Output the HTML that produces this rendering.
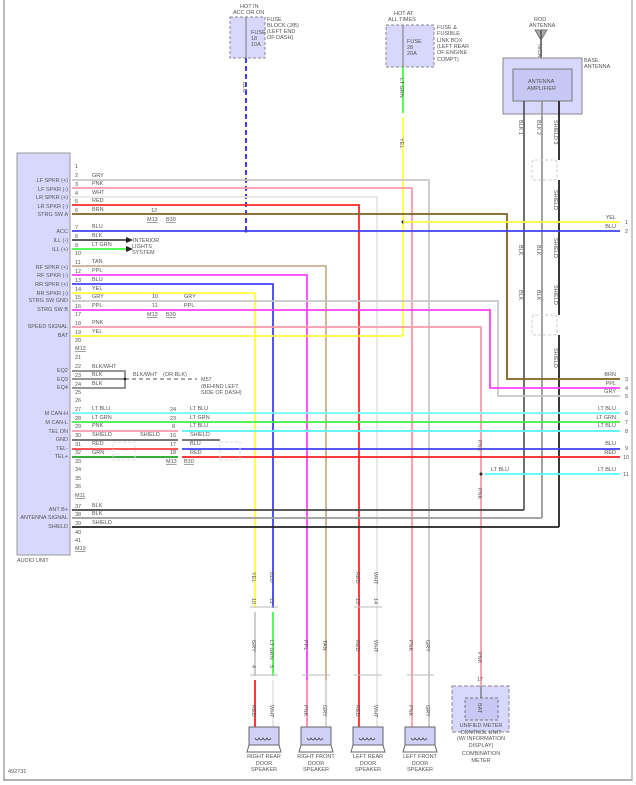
<!DOCTYPE html>
<html><head><meta charset="utf-8">
<style>
html,body{margin:0;padding:0;background:#fff;}
svg{display:block;font-family:"Liberation Sans",sans-serif;}
text{font-size:5.5px;fill:#555;}
.w{fill:none;stroke-width:1.8;}
</style></head>
<body>
<svg width="636" height="785" viewBox="0 0 636 785" xmlns="http://www.w3.org/2000/svg">
<!-- borders -->
<line x1="4" y1="0" x2="4" y2="781" stroke="#bbb" stroke-width="2"/>
<line x1="4" y1="780" x2="632" y2="780" stroke="#999" stroke-width="1.5"/>
<line x1="632" y1="0" x2="632" y2="781" stroke="#bbb" stroke-width="1.5"/>

<!-- Audio unit -->
<rect x="17" y="153" width="53" height="402" fill="#d8d8fc" stroke="#999" stroke-width="1"/>
<text x="17" y="562">AUDIO UNIT</text>
<g text-anchor="end">
<text x="68" y="182">LF SPKR (+)</text><text x="68" y="191">LF SPKR (-)</text>
<text x="68" y="199">LR SPKR (+)</text><text x="68" y="208">LR SPKR (-)</text>
<text x="68" y="216">STRG SW A</text><text x="68" y="233">ACC</text>
<text x="68" y="242">ILL (-)</text><text x="68" y="251">ILL (+)</text>
<text x="68" y="269">RF SPKR (+)</text><text x="68" y="277">RF SPKR (-)</text>
<text x="68" y="286">RR SPKR (+)</text><text x="68" y="295">RR SPKR (-)</text>
<text x="68" y="302">STRG SW GND</text><text x="68" y="311">STRG SW B</text>
<text x="68" y="328">SPEED SIGNAL</text><text x="68" y="337">BAT</text>
<text x="68" y="372">EQ2</text><text x="68" y="381">EQ3</text><text x="68" y="389">EQ4</text>
<text x="68" y="415">M CAN-H</text><text x="68" y="424">M CAN-L</text>
<text x="68" y="433">TEL ON</text><text x="68" y="441">GND</text>
<text x="68" y="450">TEL-</text><text x="68" y="458">TEL+</text>
<text x="68" y="511">ANT B+</text><text x="68" y="519">ANTENNA SIGNAL</text><text x="68" y="528">SHIELD</text>
</g>
<!-- pin numbers -->
<g>
<text x="75" y="168">1</text><text x="75" y="177">2</text><text x="75" y="186">3</text><text x="75" y="195">4</text><text x="75" y="203">5</text><text x="75" y="212">6</text>
<text x="75" y="229">7</text><text x="75" y="238">8</text><text x="75" y="247">9</text><text x="75" y="255">10</text>
<text x="75" y="264">11</text><text x="75" y="273">12</text><text x="75" y="282">13</text><text x="75" y="291">14</text><text x="75" y="299">15</text><text x="75" y="308">16</text><text x="75" y="316">17</text>
<text x="75" y="325">18</text><text x="75" y="334">19</text><text x="75" y="342">20</text><text x="75" y="350" text-decoration="underline">M13</text>
<text x="75" y="359">21</text><text x="75" y="368">22</text><text x="75" y="377">23</text><text x="75" y="386">24</text><text x="75" y="394">25</text><text x="75" y="402">26</text>
<text x="75" y="411">27</text><text x="75" y="420">28</text><text x="75" y="428">29</text><text x="75" y="437">30</text><text x="75" y="446">31</text><text x="75" y="454">32</text><text x="75" y="463">33</text>
<text x="75" y="471">34</text><text x="75" y="480">35</text><text x="75" y="488">36</text><text x="75" y="497" text-decoration="underline">M11</text>
<text x="75" y="508">37</text><text x="75" y="516">38</text><text x="75" y="525">39</text><text x="75" y="534">40</text><text x="75" y="542">41</text><text x="75" y="550" text-decoration="underline">M19</text>
</g>
<!-- wire color labels near unit -->
<g>
<text x="92" y="177">GRY</text><text x="92" y="185">PNK</text><text x="92" y="194">WHT</text><text x="92" y="202">RED</text><text x="92" y="211">BRN</text>
<text x="92" y="228">BLU</text><text x="92" y="237">BLK</text><text x="92" y="246">LT GRN</text>
<text x="92" y="263">TAN</text><text x="92" y="272">PPL</text><text x="92" y="281">BLU</text><text x="92" y="290">YEL</text><text x="92" y="298">GRY</text><text x="92" y="307">PPL</text>
<text x="92" y="324">PNK</text><text x="92" y="333">YEL</text>
<text x="92" y="368">BLK/WHT</text><text x="92" y="376">BLK</text><text x="92" y="385">BLK</text>
<text x="92" y="410">LT BLU</text><text x="92" y="419">LT GRN</text><text x="92" y="427">PNK</text><text x="92" y="436">SHIELD</text><text x="92" y="445">RED</text><text x="92" y="454">GRN</text>
<text x="92" y="507">BLK</text><text x="92" y="515">BLK</text><text x="92" y="524">SHIELD</text>
</g>

<!-- Top fuse 1 -->
<text x="240" y="8">HOT IN</text><text x="233" y="14">ACC OR ON</text>
<rect x="230" y="17" width="35" height="41" fill="#d8d8fc" stroke="#888" stroke-dasharray="3,2"/>
<line x1="246" y1="17" x2="246" y2="58" stroke="#777"/>
<text x="251" y="34">FUSE</text><text x="251" y="40">18</text><text x="251" y="46">10A</text>
<text x="267" y="21">FUSE</text><text x="267" y="27">BLOCK (J/B)</text><text x="267" y="33">(LEFT END</text><text x="267" y="39">OF DASH)</text>
<line x1="246" y1="58" x2="246" y2="231" stroke="#4040ff" stroke-width="2" stroke-dasharray="5,3"/>
<circle cx="246" cy="231" r="1.5" fill="#222"/>
<text transform="translate(243,82) rotate(90)">BLU</text>

<!-- fuse 2 -->
<text x="394" y="15">HOT AT</text><text x="388" y="21">ALL TIMES</text>
<rect x="386" y="25" width="48" height="42" fill="#d8d8fc" stroke="#888" stroke-dasharray="3,2"/>
<line x1="403" y1="25" x2="403" y2="67" stroke="#777"/>
<text x="407" y="43">FUSE</text><text x="407" y="49">28</text><text x="407" y="55">20A</text>
<text x="437" y="29">FUSE &amp;</text><text x="437" y="35">FUSIBLE</text><text x="437" y="42">LINK BOX</text><text x="437" y="48">(LEFT REAR</text><text x="437" y="54">OF ENGINE</text><text x="437" y="61">COMPT)</text>
<line x1="403" y1="67" x2="403" y2="113" stroke="#40ff40" stroke-width="1.8"/>
<line x1="403" y1="117" x2="403" y2="336" stroke="#ffff40" stroke-width="1.8"/>
<text transform="translate(400,78) rotate(90)">LT GRN</text>
<text transform="translate(400,138) rotate(90)">YEL</text>
<circle cx="403" cy="222" r="1.5" fill="#222"/>

<!-- antenna -->
<text x="534" y="21">ROD</text><text x="529" y="27">ANTENNA</text>
<polygon points="535,30 547,30 541,40" fill="#aaa" stroke="#777"/>
<line x1="541" y1="30" x2="541" y2="58" stroke="#555" stroke-width="1.5"/>
<text transform="translate(538,44) rotate(90)">N/CA</text>
<rect x="503" y="58" width="79" height="56" fill="#d8d8fc" stroke="#888"/>
<rect x="513" y="69" width="59" height="32" fill="#c8c8f4" stroke="#777"/>
<text x="528" y="83">ANTENNA</text><text x="527" y="90">AMPLIFIER</text>
<text x="584" y="62">BASE</text><text x="584" y="68">ANTENNA</text>
<line x1="524" y1="101" x2="524" y2="510" stroke="#444" stroke-width="1.5"/>
<line x1="542" y1="101" x2="542" y2="518" stroke="#999" stroke-width="1.8"/>
<line x1="559" y1="101" x2="559" y2="160" stroke="#222" stroke-width="1.8"/>
<line x1="559" y1="180" x2="559" y2="315" stroke="#222" stroke-width="1.8"/>
<line x1="559" y1="335" x2="559" y2="527" stroke="#222" stroke-width="1.8"/>
<rect x="532" y="160" width="25" height="20" rx="3" fill="none" stroke="#ccc" stroke-dasharray="3,2"/>
<rect x="532" y="315" width="25" height="20" rx="3" fill="none" stroke="#ccc" stroke-dasharray="3,2"/>
<text transform="translate(519,120) rotate(90)">BLK  1</text>
<text transform="translate(537,120) rotate(90)">BLK  2</text>
<text transform="translate(554,120) rotate(90)">SHIELD  3</text>
<text transform="translate(554,190) rotate(90)">SHIELD</text>
<text transform="translate(519,245) rotate(90)">BLK</text>
<text transform="translate(537,245) rotate(90)">BLK</text>
<text transform="translate(554,238) rotate(90)">SHIELD</text>
<text transform="translate(519,290) rotate(90)">BLK</text>
<text transform="translate(537,290) rotate(90)">BLK</text>
<text transform="translate(554,285) rotate(90)">SHIELD</text>
<text transform="translate(554,348) rotate(90)">SHIELD</text>

<!-- horizontal wires from unit -->
<g class="w">
<path d="M72 180 H429 V745" stroke="#c8c8c8"/>
<path d="M72 188 H412 V745" stroke="#ff99aa"/>
<path d="M72 197 H377 V745" stroke="#e6e6e6"/>
<path d="M72 205 H359 V745" stroke="#ff2a2a"/>
<path d="M72 214 H507 V379 H620" stroke="#806020"/>
<path d="M72 231 H620" stroke="#4040ff"/>
<path d="M72 240 H126" stroke="#444"/>
<path d="M72 249 H126" stroke="#40ff40"/>
<path d="M72 266 H326 V745" stroke="#c8b090"/>
<path d="M72 275 H307 V745" stroke="#ff40ff"/>
<path d="M72 284 H273 V608" stroke="#4040ff"/>
<path d="M72 293 H255 V608" stroke="#ffff40"/>
<path d="M72 301 H498 V396 H620" stroke="#c8c8c8"/>
<path d="M72 310 H490 V388 H620" stroke="#ff40ff"/>
<path d="M72 327 H481 V686" stroke="#ff99aa"/>
<path d="M72 336 H403" stroke="#ffff40"/>
<path d="M403 222 H620" stroke="#ffff40"/>
<path d="M72 371 H125 V388 H72" stroke="#888"/>
<path d="M72 379 H125" stroke="#888"/>
<path d="M72 413 H620" stroke="#70ffff"/>
<path d="M72 422 H620" stroke="#40ee40"/>
<path d="M72 431 H178 M182 431 H620" stroke="#ff99aa"/>
<path d="M182 431 H620" stroke="#50ffff"/>
<path d="M72 440 H178 M182 440 H220" stroke="#666"/>
<path d="M72 449 H178" stroke="#ff4040"/>
<path d="M182 449 H620" stroke="#4040ff"/>
<path d="M72 457 H178" stroke="#20a020"/>
<path d="M182 457 H620" stroke="#ff2020"/>
<path d="M485 474 H620" stroke="#50ffff"/>
<path d="M72 510 H524" stroke="#444"/>
<path d="M72 518 H542" stroke="#999"/>
<path d="M72 527 H559" stroke="#222"/>
<!-- bottom speaker wires lower segments -->
<path d="M255 612 V676" stroke="#c8c8c8"/>
<path d="M273 612 V676" stroke="#40ff40"/>
<path d="M255 680 V745" stroke="#ff2020"/>
<path d="M273 680 V745" stroke="#e6e6e6"/>
<path d="M307 680 V745" stroke="#ff99aa"/>
<path d="M326 680 V745" stroke="#d8d8d8"/>
</g>
<circle cx="481" cy="474" r="1.5" fill="#222"/>
<polygon points="126,237 133,240 126,243" fill="#222"/>
<polygon points="126,246 133,249 126,252" fill="#222"/>
<text x="133" y="242">INTERIOR</text><text x="132" y="248">LIGHTS</text><text x="132" y="254">SYSTEM</text>
<line x1="125" y1="379" x2="197" y2="379" stroke="#888" stroke-width="1.5" stroke-dasharray="4,3"/>
<circle cx="125" cy="379" r="1.3" fill="#222"/>
<text x="133" y="376">BLK/WHT</text><text x="163" y="376">(OR BLK)</text>
<text x="201" y="381">M57</text><text x="201" y="388">(BEHIND LEFT</text><text x="201" y="394">SIDE OF DASH)</text>
<text x="140" y="436">SHIELD</text>
<rect x="113" y="442" width="22" height="18" fill="none" stroke="#ddd" stroke-dasharray="3,2"/>
<rect x="220" y="442" width="20" height="18" fill="none" stroke="#ddd" stroke-dasharray="3,2"/>

<!-- connector labels in middle -->
<text x="151" y="212">12</text><text x="147" y="221" text-decoration="underline">M13</text><text x="166" y="221" text-decoration="underline">B30</text>
<text x="152" y="298">10</text><text x="152" y="307">11</text><text x="184" y="298">GRY</text><text x="184" y="307">PPL</text>
<text x="147" y="316" text-decoration="underline">M13</text><text x="166" y="316" text-decoration="underline">B30</text>
<text x="170" y="411">24</text><text x="170" y="420">23</text><text x="172" y="428">8</text><text x="170" y="437">16</text><text x="170" y="446">17</text><text x="170" y="454">18</text>
<text x="190" y="410">LT BLU</text><text x="190" y="419">LT GRN</text><text x="190" y="427">LT BLU</text><text x="190" y="436">SHIELD</text><text x="190" y="445">BLU</text><text x="190" y="454">RED</text>
<text x="166" y="463" text-decoration="underline">M13</text><text x="184" y="463" text-decoration="underline">B30</text>

<!-- right side labels -->
<g text-anchor="end">
<text x="616" y="219">YEL</text><text x="616" y="228">BLU</text>
<text x="616" y="376">BRN</text><text x="616" y="385">PPL</text><text x="616" y="393">GRY</text>
<text x="616" y="410">LT BLU</text><text x="616" y="419">LT GRN</text><text x="616" y="427">LT BLU</text>
<text x="616" y="445">BLU</text><text x="616" y="454">RED</text><text x="616" y="471">LT BLU</text>
</g>
<text x="491" y="471">LT BLU</text>
<g><text x="625" y="224">1</text><text x="625" y="233">2</text><text x="625" y="381">3</text><text x="625" y="390">4</text><text x="625" y="398">5</text>
<text x="625" y="415">6</text><text x="625" y="424">7</text><text x="625" y="433">8</text><text x="625" y="450">9</text><text x="623" y="459">10</text><text x="623" y="476">11</text></g>
<text transform="translate(478,440) rotate(90)">PNK</text>
<text transform="translate(478,488) rotate(90)">PNK</text>

<!-- bottom vertical labels -->
<g>
<text transform="translate(252,572) rotate(90)">YEL</text><text transform="translate(270,572) rotate(90)">BLU</text>
<text transform="translate(252,598) rotate(90)">10</text><text transform="translate(270,598) rotate(90)">11</text>
<text transform="translate(252,640) rotate(90)">GRY</text><text transform="translate(270,640) rotate(90)">LT GRN</text>
<text transform="translate(252,665) rotate(90)">4</text><text transform="translate(270,665) rotate(90)">5</text>
<text transform="translate(252,705) rotate(90)">RED</text><text transform="translate(270,705) rotate(90)">WHT</text>
<text transform="translate(304,640) rotate(90)">PPL</text><text transform="translate(323,640) rotate(90)">TAN</text>
<text transform="translate(304,705) rotate(90)">PNK</text><text transform="translate(323,705) rotate(90)">GRY</text>
<text transform="translate(356,572) rotate(90)">RED</text><text transform="translate(374,572) rotate(90)">WHT</text>
<text transform="translate(356,598) rotate(90)">13</text><text transform="translate(374,598) rotate(90)">14</text>
<text transform="translate(356,640) rotate(90)">RED</text><text transform="translate(374,640) rotate(90)">WHT</text>
<text transform="translate(356,705) rotate(90)">RED</text><text transform="translate(374,705) rotate(90)">WHT</text>
<text transform="translate(409,640) rotate(90)">PNK</text><text transform="translate(426,640) rotate(90)">GRY</text>
<text transform="translate(409,705) rotate(90)">PNK</text><text transform="translate(426,705) rotate(90)">GRY</text>
<text transform="translate(478,652) rotate(90)">PNK</text>
<text x="477" y="681">17</text>
</g>
<g fill="none" stroke="#bbb" stroke-width="1">
<path d="M250 607 H278 M250 675 H278 M302 675 H330 M354 607 H382 M354 675 H382 M407 675 H434"/>
</g>
<!-- speakers -->
<g>
<g transform="translate(264,0)"><rect x="-15" y="727" width="30" height="18" fill="#d0d0f8" stroke="#666"/><path d="M-17 752 L-15 745 H15 L17 752 Z" fill="#fff" stroke="#666"/><path d="M-9 738 q2 4 4 0 q2 4 4 0 q2 4 4 0 q2 4 4 0" fill="none" stroke="#444" stroke-width=".8"/></g>
<g transform="translate(316,0)"><rect x="-15" y="727" width="30" height="18" fill="#d0d0f8" stroke="#666"/><path d="M-17 752 L-15 745 H15 L17 752 Z" fill="#fff" stroke="#666"/><path d="M-9 738 q2 4 4 0 q2 4 4 0 q2 4 4 0 q2 4 4 0" fill="none" stroke="#444" stroke-width=".8"/></g>
<g transform="translate(368,0)"><rect x="-15" y="727" width="30" height="18" fill="#d0d0f8" stroke="#666"/><path d="M-17 752 L-15 745 H15 L17 752 Z" fill="#fff" stroke="#666"/><path d="M-9 738 q2 4 4 0 q2 4 4 0 q2 4 4 0 q2 4 4 0" fill="none" stroke="#444" stroke-width=".8"/></g>
<g transform="translate(420,0)"><rect x="-15" y="727" width="30" height="18" fill="#d0d0f8" stroke="#666"/><path d="M-17 752 L-15 745 H15 L17 752 Z" fill="#fff" stroke="#666"/><path d="M-9 738 q2 4 4 0 q2 4 4 0 q2 4 4 0 q2 4 4 0" fill="none" stroke="#444" stroke-width=".8"/></g>
</g>
<g text-anchor="middle">
<text x="264" y="758">RIGHT REAR</text><text x="264" y="765">DOOR</text><text x="264" y="771">SPEAKER</text>
<text x="316" y="758">RIGHT FRONT</text><text x="316" y="765">DOOR</text><text x="316" y="771">SPEAKER</text>
<text x="368" y="758">LEFT REAR</text><text x="368" y="765">DOOR</text><text x="368" y="771">SPEAKER</text>
<text x="420" y="758">LEFT FRONT</text><text x="420" y="765">DOOR</text><text x="420" y="771">SPEAKER</text>
</g>
<!-- combination meter -->
<rect x="452" y="686" width="57" height="46" fill="#d8d8fc" stroke="#888" stroke-dasharray="4,2"/>
<rect x="465" y="698" width="33" height="22" fill="#c8c8f4" stroke="#777" stroke-dasharray="3,2"/>
<line x1="481" y1="686" x2="481" y2="698" stroke="#555"/>
<text transform="translate(478,703) rotate(90)">BAT</text>
<g text-anchor="middle">
<text x="481" y="727">UNIFIED METER</text><text x="481" y="734">CONTROL UNIT</text><text x="481" y="740">(W/ INFORMATION</text><text x="481" y="747">DISPLAY)</text>
<text x="481" y="755">COMBINATION</text><text x="481" y="762">METER</text>
</g>
<text x="8" y="773">492731</text>
</svg>
</body></html>
